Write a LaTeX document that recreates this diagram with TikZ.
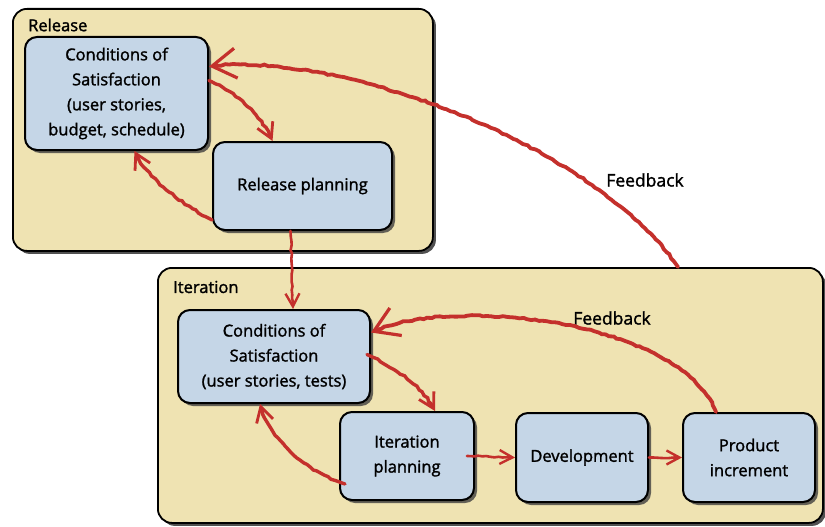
\documentclass[tikz,border=0pt]{standalone}
\usepackage{fontspec}
\setmainfont{Open Sans}[FakeBold=1.6]
\usetikzlibrary{arrows.meta,shadows,calc,decorations.pathmorphing}
\definecolor{paper}{RGB}{239,227,178}
\definecolor{boxblue}{RGB}{197,214,231}
\definecolor{chalk}{RGB}{196,48,44}
\begin{document}
\begin{tikzpicture}[x=1pt,y=-1pt,
  outerbox/.style={draw=black, line width=1.8pt, fill=paper, rounded corners=14pt,
    drop shadow={shadow xshift=3pt, shadow yshift=-3pt, fill=black!80, opacity=0.85},
    anchor=north west, inner sep=0pt},
  stepbox/.style={draw=black, line width=2pt, fill=boxblue, rounded corners=12pt,
    drop shadow={shadow xshift=3pt, shadow yshift=-3pt, fill=black!75, opacity=0.8},
    align=center, font=\fontsize{16.5}{25}\selectfont, inner sep=2pt},
  boxlabel/.style={anchor=west, font=\fontsize{16.5}{19}\selectfont, inner sep=0pt},
  fblabel/.style={font=\fontsize{17.5}{20}\selectfont, inner sep=1pt},
  arr/.style={draw=chalk, line width=3.4pt, line cap=round,
    decorate, decoration={random steps, segment length=4pt, amplitude=0.8pt, pre length=3pt, post length=8pt},
    -{Straight Barb[length=15pt, width=17pt, line width=2.8pt]}},
  bigarr/.style={arr, line width=3.8pt, -{Straight Barb[length=24pt, width=30pt, line width=3.2pt]}},
  thinarr/.style={arr, line width=2.6pt, -{Straight Barb[length=13pt, width=14pt, line width=2.4pt]}}
]
\useasboundingbox (0,0) rectangle (825,527);

% containers
\node[outerbox, minimum width=420pt, minimum height=242pt] (rel) at (12,8) {};
\node[boxlabel] (rellab) at (28,25) {Release};
\node[outerbox, minimum width=665pt, minimum height=255pt] (itr) at (157,267) {};
\node[boxlabel] (itrlab) at (173,287) {Iteration};

% boxes
\node[stepbox, minimum width=183pt, minimum height=113pt] (cos1) at (116.5,93.5)
  {Conditions of\\Satisfaction\\(user stories,\\budget, schedule)};
\node[stepbox, minimum width=179pt, minimum height=88pt] (rp) at (302.5,186) {Release planning};
\node[stepbox, minimum width=192pt, minimum height=93pt] (cos2) at (274,356.5)
  {Conditions of\\Satisfaction\\(user stories, tests)};
\node[stepbox, minimum width=134pt, minimum height=88pt] (ip) at (407,456) {Iteration\\planning};
\node[stepbox, minimum width=132pt, minimum height=89pt] (dev) at (582,457.5) {Development};
\node[stepbox, minimum width=132pt, minimum height=89pt] (pi) at (749,457.5) {Product\\increment};

% feedback labels
\node[fblabel] (fb1) at (645,180) {Feedback};
\node[fblabel] (fb2) at (612,318) {Feedback};

% connectors
\draw[bigarr] ($(itr.north west)+(521,0)$) .. controls (590,140) and (330,50) .. ($(cos1.east)+(0,-27)$);
\draw[arr] ($(cos1.east)+(0,-13)$) .. controls (235,92) and (262,115) .. ($(rp.north)+(-30,0)$);
\draw[arr] ($(rp.west)+(0,34)$) .. controls (175,200) and (145,175) .. ($(cos1.south)+(18,0)$);
\draw[thinarr] ($(rp.south)+(-12,0)$) -- ($(cos2.north)+(19,0)$);
\draw[bigarr] ($(pi.north)+(-33,0)$) .. controls (680,320) and (450,295) .. ($(cos2.east)+(0,-24)$);
\draw[arr] ($(cos2.east)+(-4,-2)$) .. controls (400,370) and (425,390) .. ($(ip.north)+(28,0)$);
\draw[arr] ($(ip.west)+(6,28)$) .. controls (300,470) and (265,430) .. ($(cos2.south)+(-14,0)$);
\draw[thinarr] ($(ip.east)+(-8,0)$) -- (dev.west);
\draw[thinarr] (dev.east) -- (pi.west);
\end{tikzpicture}
\end{document}
